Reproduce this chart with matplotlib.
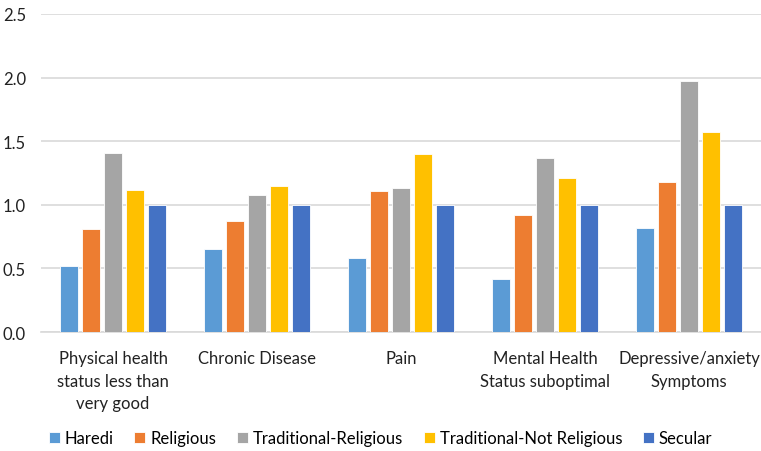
import numpy as np
import matplotlib
matplotlib.use("Agg")
import matplotlib.pyplot as plt

plt.rcParams["font.family"] = ["Lato", "DejaVu Sans"]

categories = ["Physical health\nstatus less than\nvery good", "Chronic Disease", "Pain",
              "Mental Health\nStatus suboptimal", "Depressive/anxiety\nSymptoms"]
series_names = ["Haredi", "Religious", "Traditional-Religious", "Traditional-Not Religious", "Secular"]
haredi = [0.52, 0.65, 0.58, 0.42, 0.82]
religious = [0.81, 0.87, 1.11, 0.92, 1.18]
trad_religious = [1.41, 1.08, 1.13, 1.37, 1.97]
trad_not_religious = [1.12, 1.15, 1.40, 1.21, 1.57]
secular = [1.0, 1.0, 1.0, 1.0, 1.0]
colors = ["#5B9BD5", "#ED7D31", "#A5A5A5", "#FFC000", "#4472C4"]

series = [haredi, religious, trad_religious, trad_not_religious, secular]

fig = plt.figure(figsize=(7.61, 4.52), dpi=100)
ax = fig.add_axes([0.054, 0.263, 0.946, 0.704])

x = np.arange(len(categories))
step = 0.153
width = 0.122
for i, (vals, name, c) in enumerate(zip(series, series_names, colors)):
    ax.bar(x + (i - 2) * step, vals, width, color=c, label=name,
           edgecolor="white", linewidth=0.6, zorder=3)

ax.set_xlim(-0.5, len(categories) - 0.5)
ax.set_ylim(0, 2.5)
ax.set_yticks(np.arange(0, 2.51, 0.5))
ax.set_yticklabels([f"{v:.1f}" for v in np.arange(0, 2.51, 0.5)])
ax.yaxis.grid(True, color="#d9d9d9", linewidth=1.2, zorder=0)
ax.set_xticks(x)
ax.set_xticklabels(categories, fontsize=12, linespacing=1.5)
ax.tick_params(axis="both", length=0, labelsize=12, colors="#222222")
ax.tick_params(axis="x", pad=13)
ax.tick_params(axis="y", pad=11)
for s in ["top", "right", "left"]:
    ax.spines[s].set_visible(False)
ax.spines["bottom"].set_color("#d9d9d9")
ax.spines["bottom"].set_linewidth(1.2)

fig.legend(loc="lower center", bbox_to_anchor=(0.5, -0.022), ncol=5, frameon=False,
           fontsize=12, handlelength=0.65, handleheight=0.65, handletextpad=0.3,
           columnspacing=1.25)

fig.savefig("out.png", dpi=100)
